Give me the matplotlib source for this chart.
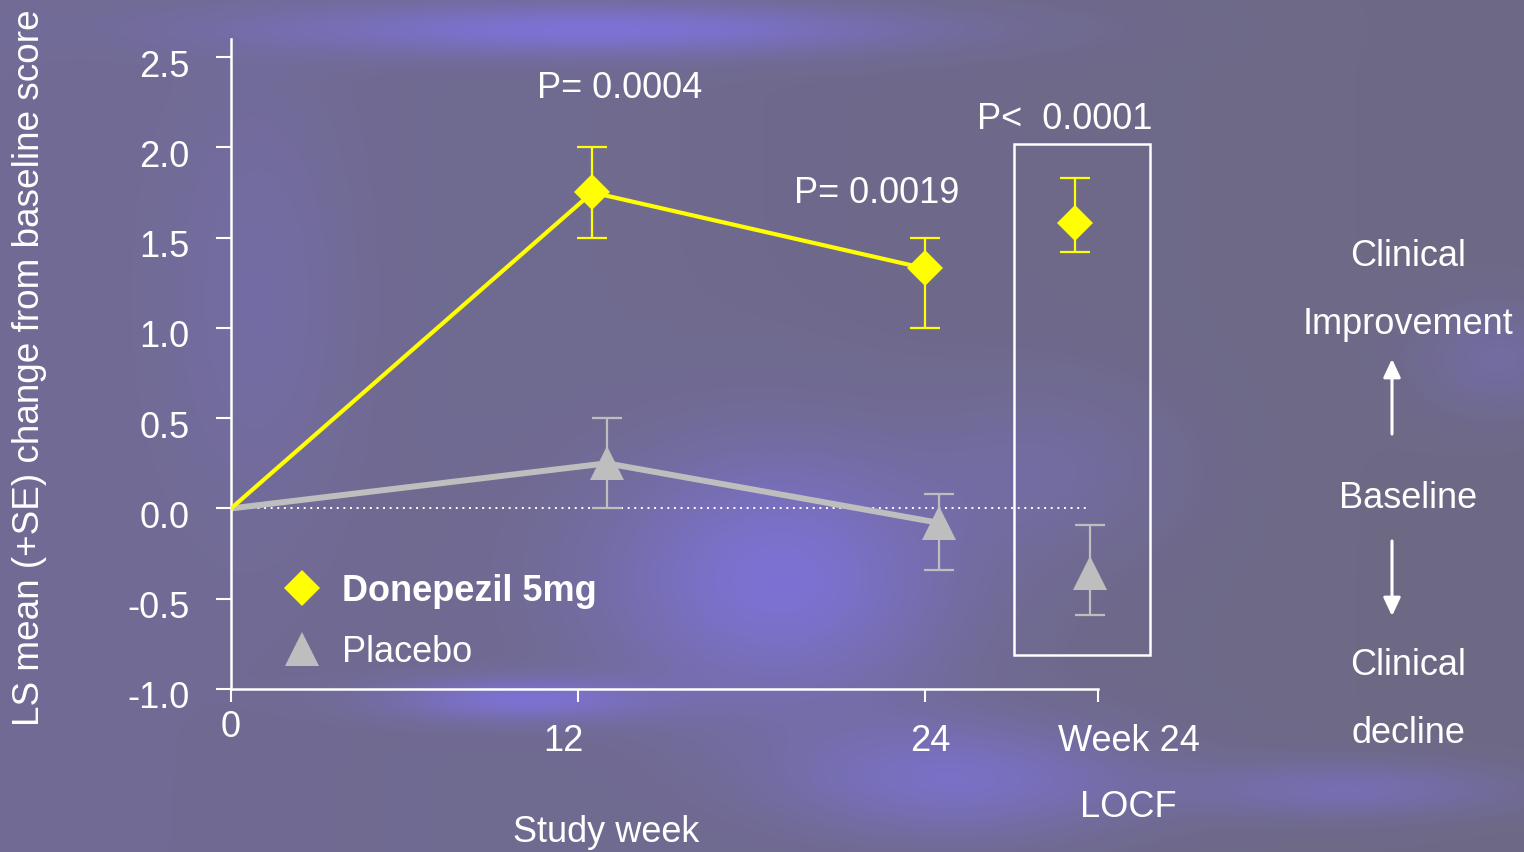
import numpy as np
import matplotlib
matplotlib.use('Agg')
import matplotlib.pyplot as plt
from matplotlib.lines import Line2D
from matplotlib.patches import Rectangle, FancyArrowPatch
from matplotlib.transforms import ScaledTranslation

plt.rcParams['font.family'] = ['Liberation Sans', 'DejaVu Sans']

## DATA
# donepezil 5mg: week 0, 12, 24 (observed) and week 24 LOCF
don_weeks = [0, 12.5, 24]
don_mean = [0.0, 1.75, 1.33]
don_upper = [0.0, 2.0, 1.5]
don_lower = [0.0, 1.5, 1.0]
don_locf_x, don_locf, don_locf_up, don_locf_lo = 29.2, 1.58, 1.83, 1.42

# placebo
pla_weeks = [0, 13, 24.5]
pla_mean = [0.0, 0.25, -0.08]
pla_upper = [0.0, 0.5, 0.08]
pla_lower = [0.0, 0.0, -0.34]
pla_locf_x, pla_locf, pla_locf_up, pla_locf_lo = 29.7, -0.36, -0.09, -0.59

yticks = [-1.0, -0.5, 0.0, 0.5, 1.0, 1.5, 2.0, 2.5]
xtick_pos = [0, 12, 24, 30]
xtick_labels = ['0', '12', '24', 'Week 24']
xtick_shift = [0, -0.5, 0.2, 1.05]   # label nudges (weeks)

p_labels = ['P= 0.0004', 'P= 0.0019', 'P<  0.0001']
p_x = [13.45, 22.35, 28.85]
p_y = [2.33, 1.75, 2.16]

YEL = '#FFFF00'
GRY = '#BEBEBE'
FS = 26
D_MS, T_MS = 18, 24

fig = plt.figure(figsize=(15.24, 8.53), dpi=100)

# background: muted purple with soft brighter blobs
H, W = 853, 1524
yy, xx = np.mgrid[0:H, 0:W]
base = np.array([113, 107, 150], float)
img = np.ones((H, W, 3)) * base
# grayer towards the right
img += (xx / W)[..., None] * np.array([-4, -2, -18])
blobs = [  # (x, y, sx, sy, strength)
    (600, 30, 220, 18, 1.0),
    (780, 580, 120, 90, 1.0),
    (520, 700, 90, 15, 0.9),
    (960, 780, 120, 40, 0.8),
    (1350, 790, 120, 20, 0.6),
    (260, 300, 60, 150, 0.25),
    (1500, 360, 60, 40, 0.4),
    (1050, 470, 90, 60, 0.3),
]
glow = np.array([14, 8, 70], float)
for bx, by, sx, sy, s in blobs:
    g = np.exp(-(((xx - bx) / sx) ** 2 + ((yy - by) / sy) ** 2) / 2) * s
    img += g[..., None] * glow
img = np.clip(img, 0, 255) / 255
bg = fig.add_axes([0, 0, 1, 1], zorder=-1)
bg.imshow(img, aspect='auto', extent=[0, 1, 0, 1])
bg.axis('off')

ax = fig.add_axes([231 / 1524, 1 - 690 / 853, (1156 - 231) / 1524, (690 - 40) / 853])
ax.set_facecolor('none')
ax.set_xlim(0, 32)
ax.set_ylim(-1.0, 2.6)

for sp in ['top', 'right']:
    ax.spines[sp].set_visible(False)
for sp in ['left', 'bottom']:
    ax.spines[sp].set_color('white')
    ax.spines[sp].set_linewidth(1.8)
ax.spines['bottom'].set_bounds(0, 30)

ax.set_yticks(yticks)
ax.set_yticklabels(['%.1f' % v for v in yticks])
ax.tick_params(axis='y', colors='white', labelsize=FS, length=11, width=1.5, pad=19)
shift_down = ScaledTranslation(0, -5 / 100, fig.dpi_scale_trans)
for lab in ax.get_yticklabels():
    lab.set_transform(lab.get_transform() + shift_down)
ax.yaxis.get_major_ticks()[0].tick1line.set_color('black')
ax.set_xticks(xtick_pos)
ax.set_xticklabels([])
ax.tick_params(axis='x', colors='white', length=9, width=1.5)
for x, lab, dx in zip(xtick_pos, xtick_labels, xtick_shift):
    yoff = -0.058 if x == 0 else -0.08
    ax.text(x + dx, yoff, lab, transform=ax.get_xaxis_transform(), ha='center', va='center',
            color='white', fontsize=FS)
ax.text(30 + xtick_shift[3], -0.181, 'LOCF', transform=ax.get_xaxis_transform(),
        ha='center', va='center', color='white', fontsize=FS)

# baseline reference
ax.hlines(0, 0, 29.6, colors='white', linewidth=1.4, linestyles=(0, (1, 2.4)), zorder=1)

# placebo
ax.plot(pla_weeks, pla_mean, color=GRY, linewidth=4.3, zorder=2)
pm = np.array(pla_mean[1:] + [pla_locf])
pu = np.array(pla_upper[1:] + [pla_locf_up])
pl = np.array(pla_lower[1:] + [pla_locf_lo])
px = pla_weeks[1:] + [pla_locf_x]
ax.errorbar(px, pm, yerr=[pm - pl, pu - pm], fmt='none', ecolor=GRY,
            elinewidth=1.6, capsize=11, capthick=1.6, zorder=3)
ax.plot(px, pm, ls='none', marker='^', ms=T_MS, color=GRY, mew=0, zorder=3)

# donepezil
ax.plot(don_weeks, don_mean, color=YEL, linewidth=3, zorder=4)
dm = np.array(don_mean[1:] + [don_locf])
du = np.array(don_upper[1:] + [don_locf_up])
dl = np.array(don_lower[1:] + [don_locf_lo])
dx_ = don_weeks[1:] + [don_locf_x]
ax.errorbar(dx_, dm, yerr=[dm - dl, du - dm], fmt='none', ecolor=YEL,
            elinewidth=1.6, capsize=11, capthick=1.6, zorder=5)
ax.plot(dx_, dm, ls='none', marker='D', ms=D_MS, color=YEL, mew=0, zorder=5)

# LOCF box
ax.add_patch(Rectangle((27.1, -0.81), 4.7, 2.83, fill=False, edgecolor='white',
                       linewidth=1.8, clip_on=False, zorder=2))

for lab, x, y in zip(p_labels, p_x, p_y):
    ax.text(x, y, lab, ha='center', va='center', color='white', fontsize=FS)

handles = [Line2D([], [], ls='none', marker='D', ms=D_MS, color=YEL, mew=0),
           Line2D([], [], ls='none', marker='^', ms=T_MS, color=GRY, mew=0)]
leg = ax.legend(handles, ['Donepezil 5mg', 'Placebo'], loc='lower left',
                bbox_to_anchor=(0.022, -0.02), frameon=False, fontsize=FS,
                handletextpad=0.6, labelspacing=0.72, handlelength=1.0)
for t in leg.get_texts():
    t.set_color('white')
leg.get_texts()[0].set_fontweight('bold')

fig.text(30 / 1524, 1 - 368 / 853, 'LS mean (+SE) change from baseline score', rotation=90,
         ha='center', va='center', color='white', fontsize=26.6)
fig.text(606 / 1524, 1 - 833 / 853, 'Study week', ha='center', va='center',
         color='white', fontsize=FS)

# right-hand guide
for txt, yp in [('Clinical', 257), ('Improvement', 325), ('Baseline', 499),
                ('Clinical', 666), ('decline', 734)]:
    fig.text(1408 / 1524, 1 - yp / 853, txt, ha='center', va='center', color='white', fontsize=FS)
for y0, y1 in [(435, 360), (542, 617)]:
    fig.add_artist(FancyArrowPatch((1392 / 1524, 1 - y0 / 853), (1392 / 1524, 1 - y1 / 853),
                   transform=fig.transFigure, arrowstyle='-|>,head_length=5.5,head_width=2.6',
                   color='white', linewidth=2.2, mutation_scale=2, shrinkA=0, shrinkB=0))

fig.savefig('out.png', dpi=100)
